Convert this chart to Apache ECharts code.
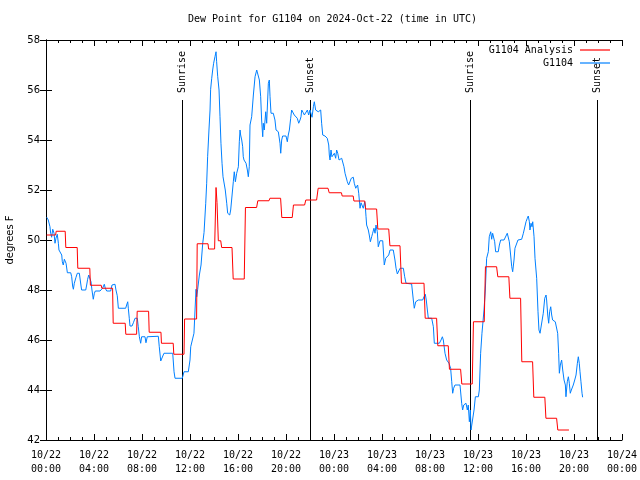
<!DOCTYPE html>
<html>
<head>
<meta charset="utf-8">
<script src="https://cdn.jsdelivr.net/npm/echarts@6/dist/echarts.min.js"></script>
<style>html,body{margin:0;padding:0;background:#fff}#c{width:640px;height:480px}</style>
</head>
<body>
<div id="c"></div>
<script>
// ---- data (hours since 2024-10-22 00:00 UTC) ----
const titleText = 'Dew Point for G1104 on 2024-Oct-22 (time in UTC)';
const yAxisName = 'degrees F';
const xTickDates = ['10/22','10/22','10/22','10/22','10/22','10/22','10/23','10/23','10/23','10/23','10/23','10/23','10/24'];
const xTickTimes = ['00:00','04:00','08:00','12:00','16:00','20:00','00:00','04:00','08:00','12:00','16:00','20:00','00:00'];

const analysisHours = [0.05,0.8,0.85,1.6,1.65,2.6,2.65,3.65,3.7,4.6,4.65,5.55,5.6,6.6,6.65,7.55,7.6,8.55,8.6,9.58,9.62,10.6,10.65,11.5,11.55,12.55,12.6,13.5,13.55,14.05,14.17,14.25,14.36,14.56,14.64,15.5,15.6,16.52,16.62,17.55,17.65,18.58,18.66,19.55,19.65,20.52,20.62,21.55,21.65,22.55,22.68,23.5,23.6,24.62,24.68,25.6,25.66,26.56,26.64,27.55,27.65,28.56,28.66,29.5,29.62,31.5,31.6,32.55,32.65,33.52,33.62,34.55,34.65,35.52,35.62,36.52,36.62,37.55,37.65,38.57,38.66,39.55,39.65,40.55,40.65,41.57,41.66,42.55,42.65,43.58];
const analysisValues = [50.2,50.2,50.35,50.35,49.7,49.7,48.87,48.87,48.19,48.19,48.07,48.07,46.67,46.67,46.23,46.23,47.15,47.15,46.31,46.31,45.87,45.87,45.43,45.43,46.84,46.84,49.85,49.85,49.64,49.64,52.1,51.5,49.97,49.97,49.7,49.7,48.44,48.44,51.3,51.3,51.57,51.57,51.67,51.67,50.9,50.9,51.4,51.4,51.6,51.6,52.07,52.07,51.89,51.89,51.76,51.76,51.56,51.56,51.24,51.24,50.44,50.44,49.77,49.77,48.27,48.27,46.87,46.87,45.77,45.77,44.83,44.83,44.24,44.24,46.73,46.73,48.93,48.93,48.53,48.53,47.67,47.67,45.13,45.13,43.71,43.71,42.87,42.87,42.4,42.4];

const obsHours = [0.06,0.19,0.33,0.39,0.47,0.56,0.67,0.75,0.83,0.94,1.03,1.08,1.22,1.31,1.36,1.44,1.53,1.61,1.67,1.78,2.06,2.14,2.22,2.28,2.36,2.5,2.61,2.78,2.83,2.92,2.97,3.31,3.39,3.47,3.56,3.67,3.75,3.83,3.89,3.94,4.03,4.11,4.5,4.71,4.86,4.94,5.06,5.39,5.5,5.75,5.83,5.94,6.03,6.64,6.72,6.81,6.86,6.94,7.0,7.17,7.28,7.42,7.61,7.69,7.78,7.89,7.97,8.25,8.33,8.44,9.36,9.44,9.56,9.69,9.83,10.56,10.67,10.75,11.36,11.5,11.86,12.0,12.06,12.22,12.33,12.42,12.5,12.56,12.64,12.78,12.92,13.06,13.17,13.31,13.39,13.47,13.58,13.67,13.72,13.81,13.89,13.97,14.08,14.17,14.22,14.31,14.42,14.5,14.58,14.67,14.75,14.83,14.94,15.06,15.14,15.22,15.31,15.39,15.5,15.61,15.69,15.78,15.89,16.03,16.11,16.17,16.22,16.31,16.39,16.44,16.5,16.67,16.78,16.86,16.94,17.0,17.14,17.28,17.42,17.56,17.69,17.78,17.89,17.97,18.06,18.11,18.19,18.31,18.39,18.53,18.61,18.67,18.75,18.94,19.08,19.17,19.36,19.5,19.56,19.64,19.72,20.0,20.11,20.19,20.28,20.39,20.47,20.61,20.69,20.83,20.94,21.06,21.17,21.25,21.31,21.44,21.53,21.67,21.78,21.89,22.0,22.08,22.17,22.28,22.36,22.47,22.56,22.69,22.89,22.97,23.06,23.25,23.44,23.56,23.61,23.67,23.75,23.83,23.94,24.03,24.14,24.22,24.31,24.42,24.5,24.64,24.72,24.83,24.92,25.0,25.11,25.22,25.33,25.44,25.61,25.69,25.81,25.89,25.97,26.06,26.17,26.25,26.44,26.56,26.61,26.67,26.72,26.86,26.94,27.03,27.14,27.22,27.33,27.42,27.5,27.61,27.69,27.78,27.83,28.06,28.11,28.19,28.31,28.44,28.56,28.67,28.94,29.08,29.17,29.28,29.42,29.5,29.61,29.78,29.89,30.0,30.47,30.61,30.69,30.81,31.03,31.39,31.5,31.61,31.69,31.78,31.86,32.14,32.28,32.36,32.78,32.92,33.03,33.11,33.25,33.39,33.58,33.72,33.81,33.89,33.97,34.08,34.5,34.64,34.72,34.81,34.92,35.0,35.11,35.19,35.28,35.36,35.42,35.56,35.67,35.78,36.03,36.11,36.22,36.33,36.5,36.61,36.72,36.86,36.94,37.06,37.14,37.22,37.33,37.39,37.47,37.69,37.78,37.89,38.17,38.33,38.44,38.53,38.61,38.72,38.81,38.89,39.0,39.08,39.22,39.33,39.64,39.78,39.92,40.0,40.11,40.19,40.28,40.33,40.42,40.5,40.56,40.67,40.75,40.89,41.0,41.08,41.17,41.33,41.44,41.56,41.67,41.72,41.81,41.89,41.97,42.06,42.14,42.22,42.33,42.44,42.56,42.64,42.72,42.78,42.86,42.97,43.06,43.17,43.28,43.33,43.44,43.53,43.61,43.69,43.78,43.86,43.94,44.06,44.17,44.28,44.36,44.44,44.5,44.58,44.67,44.72];
const obsValues = [50.91,50.8,50.53,50.27,50.11,50.43,50.27,49.87,50.07,50.23,49.87,49.6,49.6,49.4,49.13,49.0,49.23,49.31,49.07,48.69,48.69,48.53,48.16,48.03,48.27,48.51,48.67,48.67,48.48,48.16,48.0,48.0,48.2,48.43,48.6,48.64,48.33,48.0,47.8,47.63,47.87,47.96,47.96,48.07,48.23,48.07,47.96,47.96,48.2,48.23,48.0,47.77,47.27,47.27,47.4,47.53,47.27,46.87,46.56,46.56,46.69,46.87,46.87,46.53,46.13,45.87,46.13,46.13,45.89,46.13,46.15,45.73,45.16,45.16,45.47,45.47,44.73,44.47,44.47,44.73,44.73,45.2,45.73,45.75,46.27,47.2,48.03,47.73,48.03,48.6,49.0,49.87,50.3,51.47,52.27,53.33,54.4,55.2,56.03,56.47,56.8,57.07,57.33,57.53,57.13,56.53,56.0,54.93,53.87,53.07,52.53,52.5,52.0,51.47,51.07,51.13,51.0,51.2,51.2,52.33,52.73,52.33,52.67,52.93,53.93,54.4,54.2,54.0,53.73,53.33,53.2,53.07,52.8,52.53,52.93,54.6,54.93,55.8,56.53,56.8,56.8,56.4,55.73,54.8,54.13,54.67,54.4,55.13,54.67,56.27,56.4,55.73,55.07,55.07,54.8,54.4,54.33,53.87,53.47,54.0,54.16,54.16,53.93,54.2,54.4,54.87,55.2,55.13,55.0,54.93,54.87,54.67,54.8,54.93,55.2,55.09,55.0,55.07,55.2,55.0,55.2,55.13,54.91,55.33,55.53,55.2,55.2,55.13,55.2,54.67,54.2,54.16,54.07,53.8,53.4,53.2,53.6,53.33,53.27,53.47,53.27,53.6,53.47,53.2,53.13,53.27,53.33,52.93,52.67,52.73,52.33,52.2,52.27,52.47,52.51,52.27,52.07,52.0,52.2,51.87,51.27,51.49,51.27,51.53,51.33,50.93,50.6,50.4,50.2,49.93,50.13,50.27,50.47,50.27,50.6,50.33,49.73,49.8,49.97,49.97,49.6,49.0,49.27,49.27,49.4,49.6,49.6,49.2,48.87,48.64,48.64,48.87,48.93,48.87,48.53,48.27,48.24,47.6,47.27,47.53,47.6,47.6,47.73,47.83,47.6,47.2,46.87,46.87,46.53,45.87,45.87,46.0,46.13,46.0,45.47,45.2,45.07,44.87,44.33,43.87,44.07,44.2,44.2,43.47,43.2,43.4,43.33,43.47,43.2,43.4,42.73,43.2,42.4,42.4,43.2,43.73,43.73,44.0,45.47,46.27,47.2,48.0,49.27,49.53,50.13,50.33,50.03,50.27,50.29,49.93,49.53,49.53,49.8,50.0,50.0,49.93,50.27,50.33,49.93,49.4,48.93,48.73,49.2,49.67,49.73,50.0,50.03,50.27,50.33,50.73,50.87,50.96,50.73,50.4,50.67,50.53,50.73,50.13,49.27,48.47,47.13,46.4,46.27,46.27,47.07,47.67,47.8,47.6,47.0,46.67,47.13,47.33,47.0,46.8,46.83,46.73,46.67,46.27,45.47,44.67,45.0,45.2,44.8,44.4,44.2,43.73,44.33,44.53,44.27,43.87,44.0,44.07,44.2,44.4,44.6,45.07,45.33,45.07,44.73,44.33,43.87,43.71];

const sunHours = [11.36, 22.0, 35.36, 45.94];
const sunLabels = ['Sunrise', 'Sunset', 'Sunrise', 'Sunset'];
const sunLineTop = 55.6;

const seriesNames = ['G1104 Analysis', 'G1104'];
const seriesColors = ['#ff0000', '#0080ff'];

// ---- build ----
const FONT = 'DejaVu Sans Mono';
const zip = (a, b) => a.map((v, i) => [v, b[i]]);
const chart = echarts.init(document.getElementById('c'), null, {renderer: 'canvas'});
const X0 = 0, X1 = 48, Y0 = 42, Y1 = 58;

const xBase = {
  type: 'value', min: X0, max: X1, interval: 4,
  axisLine: {show: true, lineStyle: {color: '#000', width: 1}},
  axisTick: {show: true, inside: true, length: 6, lineStyle: {color: '#000'}},
  minorTick: {show: true, splitNumber: 4, length: 3, lineStyle: {color: '#000'}},
  splitLine: {show: false}, minorSplitLine: {show: false}
};
const yBase = {
  type: 'value', min: Y0, max: Y1, interval: 2,
  axisLine: {show: true, lineStyle: {color: '#000', width: 1}},
  axisTick: {show: true, inside: true, length: 6, lineStyle: {color: '#000'}},
  splitLine: {show: false}
};

chart.setOption({
  animation: false,
  backgroundColor: '#fff',
  textStyle: {fontFamily: FONT},
  title: {
    text: titleText, left: 188, top: 14, padding: 0,
    textStyle: {fontFamily: FONT, fontSize: 10, fontWeight: 'normal', color: '#000'}
  },
  grid: {left: 46, right: 18, top: 40, bottom: 40, containLabel: false, outerBoundsMode: 'none'},
  legend: [
    {data: [seriesNames[0]], right: 30, top: 45, orient: 'vertical', align: 'right', icon: 'rect',
     itemWidth: 30, itemHeight: 1.2, itemGap: 0, padding: 0,
     textStyle: {fontFamily: FONT, fontSize: 10, color: '#000', padding: [0, 2, 0, 0]}},
    {data: [seriesNames[1]], right: 30, top: 58, orient: 'vertical', align: 'right', icon: 'rect',
     itemWidth: 30, itemHeight: 1.2, itemGap: 0, padding: 0,
     textStyle: {fontFamily: FONT, fontSize: 10, color: '#000', padding: [0, 2, 0, 0]}}
  ],
  xAxis: [
    Object.assign({}, xBase, {
      position: 'bottom',
      axisLabel: {
        margin: 8, color: '#000', fontFamily: FONT, fontSize: 10, lineHeight: 14,
        formatter: (v) => { const i = Math.round(v / 4); return xTickDates[i] + '\n' + xTickTimes[i]; }
      }
    }),
    Object.assign({}, xBase, {position: 'top', axisLabel: {show: false}})
  ],
  yAxis: [
    Object.assign({}, yBase, {
      position: 'left',
      name: yAxisName, nameLocation: 'middle', nameGap: 31, nameRotate: 90,
      nameTextStyle: {fontFamily: 'DejaVu Sans', fontSize: 10, color: '#000'},
      axisLabel: {margin: 6, color: '#000', fontFamily: 'DejaVu Sans', fontSize: 10}
    }),
    Object.assign({}, yBase, {position: 'right', axisLabel: {show: false}})
  ],
  series: [
    {
      name: 'sun', type: 'custom', xAxisIndex: 0, yAxisIndex: 0, silent: true, z: 1,
      data: sunHours.map((h, i) => [h, i]),
      renderItem: (params, api) => {
        const h = api.value(0);
        const top = api.coord([h, sunLineTop]);
        const bot = api.coord([h, Y0]);
        const x = Math.round(top[0]) + 0.5;
        return {
          type: 'group',
          children: [
            {type: 'line', shape: {x1: x, y1: top[1], x2: x, y2: bot[1]},
             style: {stroke: '#000', lineWidth: 1}},
            {type: 'text', x: x, y: top[1] - 7, rotation: Math.PI / 2,
             style: {text: sunLabels[api.value(1)], fill: '#000', font: '10px ' + FONT,
                     align: 'left', verticalAlign: 'middle'}}
          ]
        };
      }
    },
    {
      name: seriesNames[0], type: 'line', xAxisIndex: 0, yAxisIndex: 0, z: 3,
      data: zip(analysisHours, analysisValues), showSymbol: false, symbol: 'none',
      lineStyle: {color: seriesColors[0], width: 1}, itemStyle: {color: seriesColors[0]}
    },
    {
      name: seriesNames[1], type: 'line', xAxisIndex: 0, yAxisIndex: 0, z: 2,
      data: zip(obsHours, obsValues), showSymbol: false, symbol: 'none',
      lineStyle: {color: seriesColors[1], width: 1}, itemStyle: {color: seriesColors[1]}
    }
  ]
});
</script>
</body>
</html>
